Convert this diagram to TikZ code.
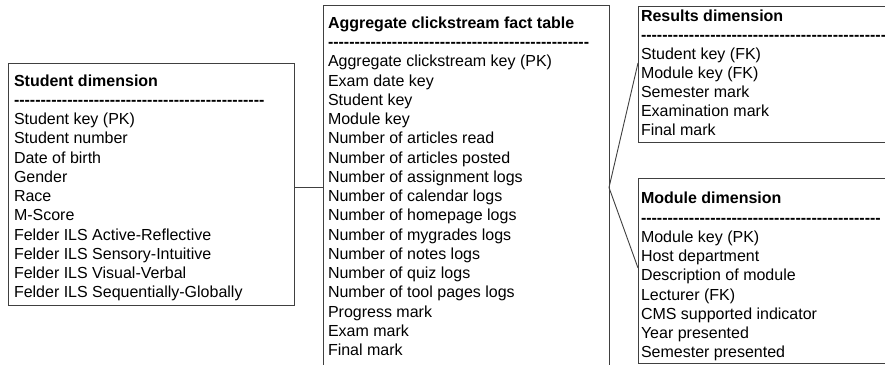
\documentclass[tikz,border=0pt]{standalone}
\usepackage{fontspec}
\setmainfont{Liberation Sans}[Ligatures=TeXOff]
\tikzset{
  box/.style={draw=black!75, line width=0.9pt, anchor=north west, inner sep=0pt, outer sep=0pt},
  txt/.style={anchor=north west, inner sep=0pt, outer sep=0pt, align=left, font=\fontsize{16}{19.25}\selectfont},
  link/.style={draw=black!75, line width=0.9pt}
}
\begin{document}
\begin{tikzpicture}[x=1pt,y=-1pt]
\useasboundingbox (0,0) rectangle (885,364);
\fill[white] (0,0) rectangle (885,364);
\begin{scope}
\clip (0,0) rectangle (885,364);
\node[box, minimum width=285.5pt, minimum height=242pt] (student) at (8.5,63) {};
\node[box, minimum width=286pt, minimum height=365pt] (fact) at (323,5) {};
\node[box, minimum width=262pt, minimum height=136pt] (results) at (638,6) {};
\node[box, minimum width=262pt, minimum height=185.5pt] (module) at (638,178) {};

\node[txt] (studenttxt) at (14,72.7) {\strut\textbf{Student dimension}\\
\textbf{-----------------------------------------------}\\
Student key (PK)\\
Student number\\
Date of birth\\
Gender\\
Race\\
M-Score\\
Felder ILS Active-Reflective\\
Felder ILS Sensory-Intuitive\\
Felder ILS Visual-Verbal\\
Felder ILS Sequentially-Globally};

\node[txt] (facttxt) at (328,14.8) {\strut\textbf{Aggregate clickstream fact table}\\
\textbf{-------------------------------------------------}\\
Aggregate clickstream key (PK)\\
Exam date key\\
Student key\\
Module key\\
Number of articles read\\
Number of articles posted\\
Number of assignment logs\\
Number of calendar logs\\
Number of homepage logs\\
Number of mygrades logs\\
Number of notes logs\\
Number of quiz logs\\
Number of tool pages logs\\
Progress mark\\
Exam mark\\
Final mark};

\node[txt, font=\fontsize{16}{19.05}\selectfont] (resultstxt) at (641,8) {\strut\textbf{Results dimension}\\
\textbf{------------------------------------------------------}\\
Student key (FK)\\
Module key (FK)\\
Semester mark\\
Examination mark\\
Final mark};

\node[txt] (moduletxt) at (641,190.5) {\strut\textbf{Module dimension}\\
\textbf{---------------------------------------------}\\
Module key (PK)\\
Host department\\
Description of module\\
Lecturer (FK)\\
CMS supported indicator\\
Year presented\\
Semester presented};

\coordinate (rin) at (638,63);
\coordinate (min) at (638,268);
\draw[link] (student.east |- fact.west) -- (fact.west);
\draw[link] (rin) -- (fact.east) -- (min);
\end{scope}
\end{tikzpicture}
\end{document}
